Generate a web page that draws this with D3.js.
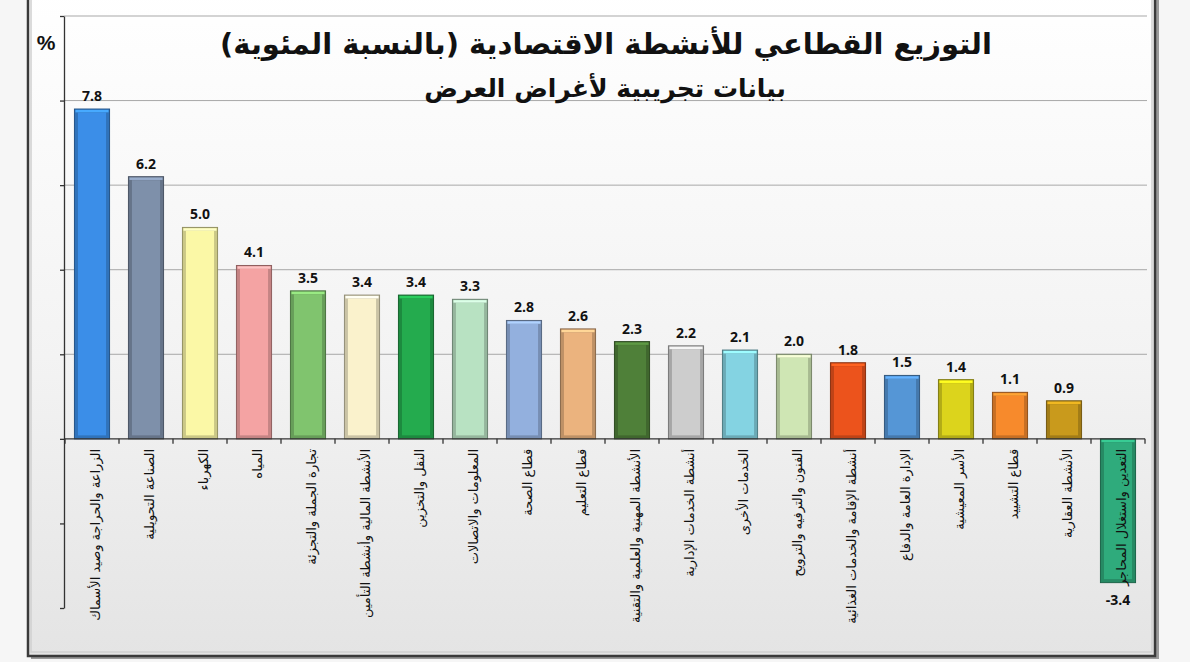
<!DOCTYPE html>
<html><head><meta charset="utf-8">
<script src="https://cdn.jsdelivr.net/npm/d3@7"></script>
<style>html,body{margin:0;padding:0;background:#f6f6f6;} svg{display:block}</style>
</head><body><svg id="c" width="1190" height="662"></svg>
<script>
const categories = [
  "الزراعة والحراجة وصيد الأسماك",
  "الصناعة التحويلية",
  "الكهرباء",
  "المياه",
  "تجارة الجملة والتجزئة",
  "الأنشطة المالية وأنشطة التأمين",
  "النقل والتخزين",
  "المعلومات والاتصالات",
  "قطاع الصحة",
  "قطاع التعليم",
  "الأنشطة المهنية والعلمية والتقنية",
  "أنشطة الخدمات الإدارية",
  "الخدمات الأخرى",
  "الفنون والترفيه والترويح",
  "أنشطة الإقامة والخدمات الغذائية",
  "الإدارة العامة والدفاع",
  "الأسر المعيشية",
  "قطاع التشييد",
  "الأنشطة العقارية",
  "التعدين واستغلال المحاجر"
];
const values = [7.8, 6.2, 5.0, 4.1, 3.5, 3.4, 3.4, 3.3, 2.8, 2.6, 2.3, 2.2, 2.1, 2.0, 1.8, 1.5, 1.4, 1.1, 0.9, -3.4];
const palette = ["#3b8ee8", "#7e90aa", "#fbf8a6", "#f4a3a3", "#80c46e", "#faf2cc", "#24ab4e", "#b8e2c2",
  "#93b0de", "#ebb37e", "#4f8039", "#cdcdcd", "#84d3e2", "#cfe6b4", "#ec531c", "#5596d6",
  "#dcd41c", "#f78a2c", "#c99a1c", "#2fab7c"];
const yTicks = [-4, -2, 0, 2, 4, 6, 8, 10];
const gridTicks = [2, 4, 6, 8, 10];
const titleText = "التوزيع القطاعي للأنشطة الاقتصادية (بالنسبة المئوية)";
const subtitleText = "بيانات تجريبية لأغراض العرض";
const unitText = "%";

const svg = d3.select("#c");
const defs = svg.append("defs");
const bg = defs.append("linearGradient").attr("id", "bg").attr("x1", 0).attr("y1", 0).attr("x2", 0).attr("y2", 1);
bg.append("stop").attr("offset", "0%").attr("stop-color", "#ffffff");
bg.append("stop").attr("offset", "55%").attr("stop-color", "#f3f3f3");
bg.append("stop").attr("offset", "100%").attr("stop-color", "#e4e4e4");

// frame
svg.append("rect").attr("x", 31).attr("y", -10).attr("width", 1128).attr("height", 669).attr("fill", "#9a9a9a");
svg.append("rect").attr("x", 28).attr("y", -10).attr("width", 1127).attr("height", 666)
  .attr("fill", "url(#bg)").attr("stroke", "#3a3a3a").attr("stroke-width", 2.5);
svg.append("rect").attr("x", 31).attr("y", -10).attr("width", 1121).attr("height", 662)
  .attr("fill", "none").attr("stroke", "#d0d0d0").attr("stroke-width", 1.5);

const y = d3.scaleLinear().domain([-4, 10]).range([608, 16]);
const x = d3.scaleBand().domain(categories).range([65, 1145]).paddingInner(0.35).paddingOuter(0.175);

// gridlines
svg.append("g").selectAll("line").data(gridTicks).join("line")
  .attr("x1", 64).attr("x2", 1147).attr("y1", d => y(d)).attr("y2", d => y(d))
  .attr("stroke", "#a8a8a8").attr("stroke-width", 1);

// y axis
const yAxis = svg.append("g").attr("transform", "translate(64,0)")
  .call(d3.axisLeft(y).tickValues(yTicks).tickFormat("").tickSize(4).tickSizeOuter(0));
yAxis.selectAll("path,line").attr("stroke", "#333").attr("stroke-width", 1.3);

// title
svg.append("text").attr("x", 606).attr("y", 54).attr("text-anchor", "middle")
  .attr("font-family", "'DejaVu Sans', sans-serif").attr("font-weight", "bold").attr("font-size", 29)
  .attr("fill", "#111").text(titleText);
svg.append("text").attr("x", 605).attr("y", 97).attr("text-anchor", "middle")
  .attr("font-family", "'DejaVu Sans', sans-serif").attr("font-weight", "bold").attr("font-size", 25)
  .attr("fill", "#111").text(subtitleText);
svg.append("text").attr("x", 46).attr("y", 50).attr("text-anchor", "middle")
  .attr("font-family", "'Liberation Sans', sans-serif").attr("font-weight", "bold").attr("font-size", 21)
  .attr("fill", "#111").text(unitText);

const data = categories.map((c, i) => ({ c, v: values[i], col: palette[i] }));

// bars
const bars = svg.append("g").selectAll("g").data(data).join("g");
bars.append("rect")
  .attr("x", d => x(d.c)).attr("width", x.bandwidth())
  .attr("y", d => y(Math.max(0, d.v))).attr("height", d => Math.abs(y(d.v) - y(0)))
  .attr("fill", d => d3.color(d.col).darker(0.6))
  .attr("stroke", d => d3.color(d.col).darker(1.5)).attr("stroke-width", 1);
bars.append("rect")
  .attr("x", d => x(d.c) + 3.5).attr("width", x.bandwidth() - 7)
  .attr("y", d => y(Math.max(0, d.v)) + 3.5).attr("height", d => Math.max(0, Math.abs(y(d.v) - y(0)) - 7))
  .attr("fill", d => d.col);
bars.append("rect")
  .attr("x", d => x(d.c) + 1).attr("width", x.bandwidth() - 2)
  .attr("y", d => y(Math.max(0, d.v)) + 0.8).attr("height", 2.5)
  .attr("fill", d => d3.color(d.col).brighter(0.5));

// x axis
const step = x.step();
const xTicks = d3.range(categories.length + 1).map(i => x.range()[0] + i * step);
const xa = svg.append("g");
xa.append("line").attr("x1", 64).attr("x2", 1145).attr("y1", y(0)).attr("y2", y(0))
  .attr("stroke", "#333").attr("stroke-width", 1.3);
xa.selectAll("line.t").data(xTicks).join("line").attr("class", "t")
  .attr("x1", d => d).attr("x2", d => d).attr("y1", y(0)).attr("y2", y(0) + 5)
  .attr("stroke", "#333").attr("stroke-width", 1.3);

// value labels
svg.append("g").selectAll("text").data(data).join("text")
  .attr("x", d => x(d.c) + x.bandwidth() / 2)
  .attr("y", d => d.v >= 0 ? y(d.v) - 8 : y(d.v) + 22)
  .attr("text-anchor", "middle")
  .attr("font-family", "'Open Sans', sans-serif").attr("font-weight", "bold").attr("font-size", 14)
  .attr("fill", "#111").text(d => d.v.toFixed(1));

// category labels
svg.append("g").selectAll("text").data(data).join("text")
  .attr("transform", d => `translate(${x(d.c) + x.bandwidth() / 2 + 3},${y(0) + 10}) rotate(-90)`)
  .attr("text-anchor", "end").attr("dominant-baseline", "central")
  .attr("font-family", "'DejaVu Sans', sans-serif").attr("font-size", 13)
  .attr("fill", "#111").text(d => d.c);
</script></body></html>
